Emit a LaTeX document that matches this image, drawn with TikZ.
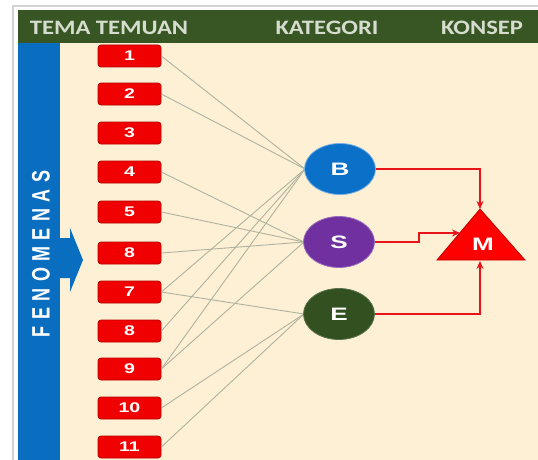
\documentclass[tikz,border=0pt]{standalone}
\usepackage{fontspec}
\usepackage{graphicx}
\setmainfont{Liberation Sans}
\newfontfamily\hdrfont{Carlito}[FakeStretch=1.2]
\newfontfamily\numfont{Liberation Sans}[FakeStretch=1.4]
\newfontfamily\circfont{Liberation Sans}[FakeStretch=1.45]
\newfontfamily\sidefont{Liberation Sans}[LetterSpace=36]
\usetikzlibrary{shapes.geometric,arrows.meta}
\definecolor{hdrgreen}{RGB}{55,86,35}
\definecolor{hdrtext}{RGB}{214,221,207}
\definecolor{beige}{RGB}{253,240,212}
\definecolor{barblue}{RGB}{10,110,192}
\definecolor{boxred}{RGB}{240,0,0}
\definecolor{catblue}{RGB}{11,112,200}
\definecolor{catpurple}{RGB}{112,48,160}
\definecolor{catgreen}{RGB}{50,80,32}
\definecolor{linkgray}{RGB}{176,178,160}
\definecolor{arrred}{RGB}{232,20,26}
\definecolor{bordergray}{RGB}{210,210,210}
\tikzset{
  hdr/.style={text=hdrtext, font=\hdrfont\bfseries\fontsize{20.5}{20.5}\selectfont, inner sep=0pt},
  numbox/.style={rectangle, rounded corners=3pt, minimum width=63pt, minimum height=22pt,
    fill=boxred, draw=boxred!75!black, line width=0.7pt, text=white, inner sep=0pt,
    font=\numfont\bfseries\fontsize{14}{14}\selectfont},
  cat/.style={ellipse, minimum width=71pt, minimum height=51pt, inner sep=0pt, text=white,
    line width=0.8pt, font=\circfont\bfseries\fontsize{18}{18}\selectfont},
  link/.style={draw=linkgray, line width=0.9pt},
  redarrow/.style={draw=arrred, line width=2.1pt, -{Stealth[length=8pt,width=7pt]}},
  sidetext/.style={rotate=90, text=white, inner sep=0pt,
    font=\sidefont\bfseries\fontsize{18}{18}\selectfont}
}
\begin{document}
\begin{tikzpicture}[x=1pt,y=-1pt]
\useasboundingbox (0,0) rectangle (538,460);
\fill[white] (0,0) rectangle (538,460);
\draw[bordergray, line width=1.5pt] (13,460) -- (13,6) -- (538,6);
\fill[hdrgreen] (18,10) rectangle (538,43);
\fill[beige] (18,43) rectangle (538,460);
\fill[barblue] (18,43) rectangle (60,460);
\fill[barblue] (60,238) -- (70,238) -- (70,228) -- (83,260) -- (70,292) -- (70,278) -- (60,278) -- cycle;

\node[hdr] (h1) at (109,28) {TEMA TEMUAN};
\node[hdr] (h2) at (327,28) {KATEGORI};
\node[hdr] (h3) at (482,28) {KONSEP};

\node[sidetext] (fen) at (41,254) {\scalebox{1}[1.4]{FENOMENAS}};

\foreach \i/\y/\t in {1/56/1, 2/94/2, 3/133/3, 4/172/4, 5/212/5, 6/253/8, 7/292/7, 8/331/8, 9/369/9, 10/408/10, 11/447/11}
  \node[numbox] (n\i) at (129.5,\y) {\t};

\coordinate (Bc) at (340,169);
\coordinate (Sc) at (339,242);
\coordinate (Ec) at (339,314);

\foreach \i in {1,2,7,8,9} \draw[link] (n\i.east) -- ([xshift=-35pt]Bc);
\foreach \i in {4,5,6,9} \draw[link] (n\i.east) -- ([xshift=-35pt]Sc);
\foreach \i in {7,10,11} \draw[link] (n\i.east) -- ([xshift=-35pt]Ec);

\node[cat, fill=catblue, draw=catblue!55!white] (B) at (Bc) {B};
\node[cat, fill=catpurple, draw=catpurple!70!white] (S) at (Sc) {S};
\node[cat, fill=catgreen, draw=catgreen!80!white] (E) at (Ec) {E};

\coordinate (Mtop) at (480,209);
\coordinate (Mleft) at (437,260);
\coordinate (Mright) at (525,260);
\coordinate (Min) at (460,233);
\coordinate (Mbase) at (480,261);
\filldraw[fill=red, draw=red!75!black, line width=0.8pt] (Mtop) -- (Mleft) -- (Mright) -- cycle;
\node[text=white, inner sep=0pt, font=\circfont\bfseries\fontsize{18}{18}\selectfont] (M) at (483,244) {M};

\draw[redarrow] (B.east) -| (Mtop);
\draw[redarrow] (S.east) -- ++(44,0) |- (Min);
\draw[redarrow] (E.east) -| (Mbase);
\end{tikzpicture}
\end{document}
